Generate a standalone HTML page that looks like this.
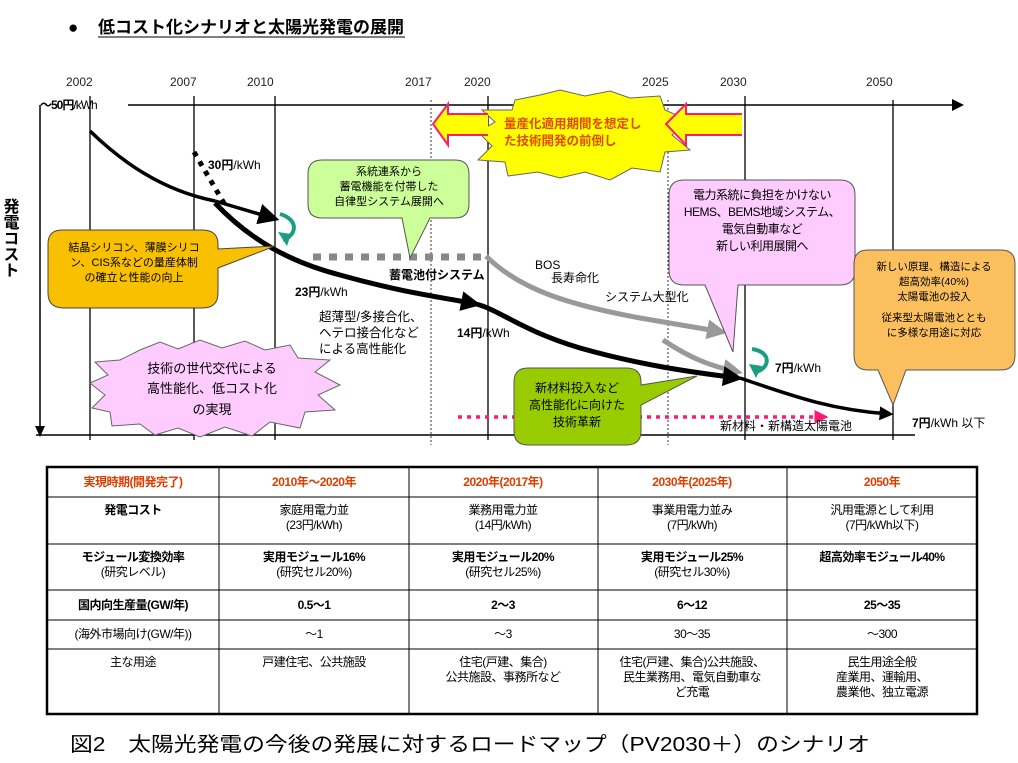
<!DOCTYPE html>
<html><head><meta charset="utf-8"><style>
html,body{margin:0;padding:0;background:#fff;}
body{width:1018px;height:763px;overflow:hidden;position:relative;font-family:"Liberation Sans","Noto Sans CJK JP",sans-serif;}
svg{position:absolute;left:0;top:0;}
svg text{font-family:"Liberation Sans","Noto Sans CJK JP",sans-serif;}
</style></head><body>
<svg width="1018" height="763" viewBox="0 0 1018 763" xmlns="http://www.w3.org/2000/svg">
<defs>
<marker id="ab" markerWidth="6" markerHeight="6" refX="5" refY="3" orient="auto" markerUnits="strokeWidth"><path d="M0,0 L6,3 L0,6 z" fill="#000"/></marker>
<marker id="ab2" markerWidth="4" markerHeight="4" refX="3" refY="2" orient="auto" markerUnits="strokeWidth"><path d="M0,0 L4,2 L0,4 z" fill="#000"/></marker>
<marker id="ag" markerWidth="4" markerHeight="4" refX="3" refY="2" orient="auto" markerUnits="strokeWidth"><path d="M0,0 L4,2 L0,4 z" fill="#999"/></marker>
<marker id="ap" markerWidth="4" markerHeight="4" refX="3" refY="2" orient="auto" markerUnits="strokeWidth"><path d="M0,0 L4,2 L0,4 z" fill="#ff1a75"/></marker>
</defs>
<!-- title -->
<text x="68" y="33" font-size="17" font-weight="bold">●</text>
<text x="98" y="33" font-size="17" font-weight="bold" textLength="306" lengthAdjust="spacingAndGlyphs">低コスト化シナリオと太陽光発電の展開</text>
<line x1="98" y1="37" x2="405" y2="37" stroke="#000" stroke-width="1"/>
<!-- years -->
<g font-size="12" fill="#222">
<text x="66" y="86">2002</text><text x="170" y="86">2007</text><text x="247" y="86">2010</text>
<text x="405" y="86">2017</text><text x="464" y="86">2020</text><text x="642" y="86">2025</text>
<text x="720" y="86">2030</text><text x="866" y="86">2050</text>
</g>
<!-- axes -->
<line x1="128" y1="105" x2="955" y2="105" stroke="#000" stroke-width="1.5"/>
<path d="M952,99 L964,105 L952,111 z" fill="#000"/>
<line x1="40" y1="105" x2="40" y2="428" stroke="#000" stroke-width="1.5"/>
<path d="M35,426 L40,437 L45,426 z" fill="#000"/>
<line x1="36" y1="435" x2="915" y2="435" stroke="#000" stroke-width="1.5"/>
<g stroke="#000" stroke-width="1.3">
<line x1="90" y1="96" x2="90" y2="440"/><line x1="194" y1="96" x2="194" y2="440"/>
<line x1="275" y1="96" x2="275" y2="440"/><line x1="488" y1="96" x2="488" y2="440"/>
<line x1="745" y1="96" x2="745" y2="440"/><line x1="893" y1="100" x2="893" y2="440"/>
</g>
<g stroke="#333" stroke-width="1" stroke-dasharray="2,2">
<line x1="431" y1="100" x2="431" y2="445"/><line x1="668" y1="100" x2="668" y2="445"/>
</g>
<text x="40" y="109" font-size="12" font-weight="bold" letter-spacing="-1">～50円<tspan font-weight="normal">/kWh</tspan></text>
<text x="9" y="198" font-size="16" font-weight="bold" writing-mode="tb">発電コスト</text>

<!-- gray paths -->
<line x1="313" y1="257" x2="486" y2="257" stroke="#888" stroke-width="7" stroke-dasharray="8,8"/>
<path d="M486,256 C520,290 570,305 640,318 C680,325 700,328 722,332" fill="none" stroke="#999" stroke-width="5" marker-end="url(#ag)"/>
<path d="M663,340 C690,358 710,366 738,372" fill="none" stroke="#999" stroke-width="5" marker-end="url(#ag)"/>
<!-- pink dotted -->
<line x1="458" y1="417" x2="825" y2="417" stroke="#ff1a75" stroke-width="3.5" stroke-dasharray="4,5" marker-end="url(#ap)"/>

<!-- black curves -->
<path d="M90,131 C120,160 160,190 215,201" fill="none" stroke="#000" stroke-width="3.5"/>
<path d="M215,201 L276,219" fill="none" stroke="#000" stroke-width="3.5" marker-end="url(#ab)"/>
<path d="M194,152 L225,205" stroke="#000" stroke-width="5" stroke-dasharray="5,6"/>
<path d="M215,203 C250,240 290,262 340,275 C400,292 440,297 476,304" fill="none" stroke="#000" stroke-width="5" marker-end="url(#ab2)"/>
<path d="M476,304 C500,310 520,330 580,348 C640,365 690,372 738,378" fill="none" stroke="#000" stroke-width="5" marker-end="url(#ab2)"/>
<path d="M740,378 C790,395 830,410 890,414" fill="none" stroke="#000" stroke-width="3.5" marker-end="url(#ab2)"/>

<!-- green curved arrows -->
<path d="M280,214 C300,220 296,236 283,240" fill="none" stroke="#1a9e80" stroke-width="4"/>
<path d="M278,232 L287,246 L291,234 z" fill="#1a9e80"/>
<path d="M752,349 C772,352 770,368 756,372" fill="none" stroke="#1a9e80" stroke-width="4"/>
<path d="M749,364 L756,378 L762,366 z" fill="#1a9e80"/>

<!-- yellow-orange callout -->
<path d="M62,230 H202 Q218,230 218,244 V249 L275,246 L218,268 V293 Q218,308 202,308 H64 Q48,308 48,293 V244 Q48,230 62,230 z" fill="#f9c000" stroke="#444" stroke-width="1"/>
<g font-size="11" text-anchor="middle"><text x="134" y="251">結晶シリコン、薄膜シリコ</text><text x="134" y="266">ン、CIS系などの量産体制</text><text x="134" y="281">の確立と性能の向上</text></g>

<!-- light green callout -->
<path d="M322,160 H455 Q469,160 469,174 V204 Q469,218 455,218 H430 L410,258 L402,218 H322 Q308,218 308,204 V174 Q308,160 322,160 z" fill="#ccff99" stroke="#555" stroke-width="1"/>
<g font-size="11" text-anchor="middle"><text x="389" y="175">系統連系から</text><text x="389" y="190">蓄電機能を付帯した</text><text x="389" y="205">自律型システム展開へ</text></g>

<!-- pink starburst -->
<path d="M140,350 L160,342 L178,349 L200,340 L222,348 L245,341 L265,350 L290,345 L298,358 L330,360 L315,372 L340,385 L318,395 L335,410 L305,412 L300,428 L270,422 L252,436 L225,427 L200,437 L178,428 L155,435 L140,424 L112,426 L110,412 L92,408 L105,395 L90,383 L108,375 L95,362 L120,360 z" fill="#ffccff" stroke="#666" stroke-width="1"/>
<g font-size="13" text-anchor="middle"><text x="212" y="373">技術の世代交代による</text><text x="212" y="393">高性能化、低コスト化</text><text x="212" y="414">の実現</text></g>

<!-- yellow starburst -->
<path d="M515,100 L540,95 L560,90 L585,96 L610,91 L630,98 L660,96 L665,110 L688,120 L672,135 L690,150 L665,152 L660,172 L632,168 L610,180 L585,172 L560,178 L538,172 L508,176 L505,162 L478,160 L492,146 L478,132 L495,122 L482,110 L512,110 z" fill="#ffff00" stroke="#666" stroke-width="1"/>
<path d="M488,114 H448 V104 L433,124 L448,145 V135 H488" fill="#ffff00" stroke="#ff1a75" stroke-width="2"/>
<path d="M742,114 H686 V104 L666,124 L686,145 V135 H742" fill="#ffff00" stroke="#ff1a75" stroke-width="2"/>
<g font-size="12.5" font-weight="bold" fill="#e04a00"><text x="504" y="128">量産化適用期間を想定し</text><text x="504" y="145">た技術開発の前倒し</text></g>

<!-- pink callout -->
<path d="M684,180 H840 Q855,180 855,195 V270 Q855,285 840,285 H738 L733,352 L705,285 H684 Q669,285 669,270 V195 Q669,180 684,180 z" fill="#ffccff" stroke="#555" stroke-width="1"/>
<g font-size="12" text-anchor="middle" letter-spacing="-0.5"><text x="762" y="199">電力系統に負担をかけない</text><text x="762" y="216">HEMS、BEMS地域システム、</text><text x="762" y="233">電気自動車など</text><text x="762" y="250">新しい利用展開へ</text></g>

<!-- olive green callout -->
<path d="M528,368 H626 Q641,368 641,382 V385 L697,376 L641,405 V431 Q641,445 626,445 H528 Q514,445 514,431 V382 Q514,368 528,368 z" fill="#99cc00" stroke="#555" stroke-width="1"/>
<g font-size="12" text-anchor="middle"><text x="577" y="392">新材料投入など</text><text x="577" y="409">高性能化に向けた</text><text x="577" y="426">技術革新</text></g>

<!-- orange callout -->
<path d="M868,250 H1001 Q1015,250 1015,264 V355 Q1015,370 1001,370 H906 L893,405 L878,370 H868 Q854,370 854,355 V264 Q854,250 868,250 z" fill="#fbbf5e" stroke="#555" stroke-width="1"/>
<g font-size="10.5" text-anchor="middle"><text x="934" y="270">新しい原理、構造による</text><text x="934" y="285">超高効率(40%)</text><text x="934" y="300">太陽電池の投入</text><text x="934" y="321">従来型太陽電池ととも</text><text x="934" y="336">に多様な用途に対応</text></g>

<!-- labels -->
<g font-size="12">
<text x="208" y="169"><tspan font-weight="bold">30円</tspan>/kWh</text>
<text x="295" y="296"><tspan font-weight="bold">23円</tspan>/kWh</text>
<text x="457" y="337"><tspan font-weight="bold">14円</tspan>/kWh</text>
<text x="775" y="372"><tspan font-weight="bold">7円</tspan>/kWh</text>
<text x="912" y="427"><tspan font-weight="bold">7円</tspan>/kWh 以下</text>
<text x="389" y="279" font-weight="bold">蓄電池付システム</text>
<text x="535" y="269">BOS</text><text x="551" y="282">長寿命化</text>
<text x="605" y="301">システム大型化</text>
<text x="720" y="430">新材料・新構造太陽電池</text>
</g>
<g font-size="12.5"><text x="319" y="321">超薄型/多接合化、</text><text x="319" y="337">ヘテロ接合化など</text><text x="319" y="353">による高性能化</text></g>

<!-- table -->
<rect x="47" y="467" width="930" height="247" fill="none" stroke="#000" stroke-width="2.5"/>
<g stroke="#000" stroke-width="1">
<line x1="47" y1="497" x2="977" y2="497"/><line x1="47" y1="544" x2="977" y2="544"/>
<line x1="47" y1="590" x2="977" y2="590"/><line x1="47" y1="620" x2="977" y2="620"/>
<line x1="47" y1="649" x2="977" y2="649"/>
<line x1="219" y1="467" x2="219" y2="714"/><line x1="409" y1="467" x2="409" y2="714"/>
<line x1="598" y1="467" x2="598" y2="714"/><line x1="787" y1="467" x2="787" y2="714"/>
</g>
<g font-size="12" text-anchor="middle" letter-spacing="-0.5">
<g fill="#e03c00" font-weight="bold"><text x="133" y="486">実現時期(開発完了)</text><text x="314" y="486">2010年～2020年</text><text x="503" y="486">2020年(2017年)</text><text x="692" y="486">2030年(2025年)</text><text x="882" y="486">2050年</text></g>
<text x="133" y="514" font-weight="bold">発電コスト</text>
<text x="314" y="514">家庭用電力並</text><text x="314" y="529">(23円/kWh)</text>
<text x="503" y="514">業務用電力並</text><text x="503" y="529">(14円/kWh)</text>
<text x="692" y="514">事業用電力並み</text><text x="692" y="529">(7円/kWh)</text>
<text x="882" y="514">汎用電源として利用</text><text x="882" y="529">(7円/kWh以下)</text>
<text x="133" y="561" font-weight="bold">モジュール変換効率</text><text x="133" y="576">(研究レベル)</text>
<text x="314" y="561" font-weight="bold">実用モジュール16%</text><text x="314" y="576">(研究セル20%)</text>
<text x="503" y="561" font-weight="bold">実用モジュール20%</text><text x="503" y="576">(研究セル25%)</text>
<text x="692" y="561" font-weight="bold">実用モジュール25%</text><text x="692" y="576">(研究セル30%)</text>
<text x="882" y="561" font-weight="bold">超高効率モジュール40%</text>
<g font-weight="bold"><text x="133" y="609">国内向生産量(GW/年)</text><text x="314" y="609">0.5～1</text><text x="503" y="609">2～3</text><text x="692" y="609">6～12</text><text x="882" y="609">25～35</text></g>
<text x="133" y="638">(海外市場向け(GW/年))</text><text x="314" y="638">～1</text><text x="503" y="638">～3</text><text x="692" y="638">30～35</text><text x="882" y="638">～300</text>
<text x="133" y="666">主な用途</text>
<text x="314" y="666">戸建住宅、公共施設</text>
<text x="503" y="666">住宅(戸建、集合)</text><text x="503" y="681">公共施設、事務所など</text>
<text x="692" y="666">住宅(戸建、集合)公共施設、</text><text x="692" y="681">民生業務用、電気自動車な</text><text x="692" y="696">ど充電</text>
<text x="882" y="666">民生用途全般</text><text x="882" y="681">産業用、運輸用、</text><text x="882" y="696">農業他、独立電源</text>
</g>
<text x="70" y="751" font-size="20" textLength="800" lengthAdjust="spacingAndGlyphs">図2　太陽光発電の今後の発展に対するロードマップ（PV2030＋）のシナリオ</text>
</svg>
</body></html>
